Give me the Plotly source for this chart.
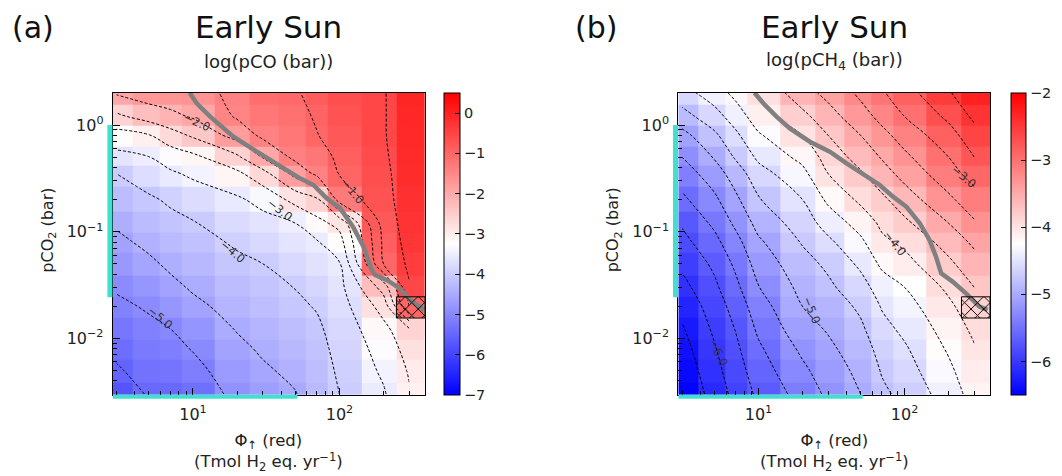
import math
import plotly.graph_objects as go

# ---------------- data ----------------
PHI = [3, 5, 7, 10, 20, 30, 50, 70, 100, 200, 300]                 # Tmol H2 eq / yr (cell centres)
PCO2 = [0.003, 0.005, 0.008, 0.012, 0.02, 0.03, 0.05, 0.08, 0.12, 0.2, 0.35, 0.5, 0.8, 1.2, 2.0]  # bar
PHI_LIM = [2.83, 384]
PCO2_LIM = [0.00294, 2.01]

# log10(pCO) ; one list per PHI column, listed from pCO2 = 2 (top) down to 0.003 (bottom)
LOG_PCO_COLS = [
    [-1.95, -2.6, -3.2, -3.65, -4.0, -4.23, -4.44, -4.6, -4.77, -4.95, -5.09, -5.26, -5.4, -5.55, -5.75],
    [-1.74, -2.3, -3.03, -3.51, -3.75, -4.07, -4.25, -4.4, -4.58, -4.79, -4.95, -5.1, -5.21, -5.33, -5.46],
    [-1.7, -2.13, -2.71, -3.29, -3.57, -3.93, -4.13, -4.26, -4.42, -4.61, -4.79, -5.01, -5.15, -5.3, -5.45],
    [-1.65, -1.95, -2.43, -3.12, -3.42, -3.77, -4.03, -4.16, -4.3, -4.45, -4.6, -4.81, -4.97, -5.15, -5.35],
    [-1.4, -1.45, -1.8, -2.59, -3.11, -3.57, -3.78, -3.94, -4.09, -4.23, -4.34, -4.48, -4.6, -4.72, -4.85],
    [-1.1, -1.25, -1.4, -1.97, -2.68, -3.36, -3.66, -3.81, -4.0, -4.12, -4.22, -4.34, -4.44, -4.56, -4.68],
    [-1.05, -1.15, -1.25, -1.38, -1.84, -2.84, -3.5, -3.64, -3.81, -3.99, -4.08, -4.2, -4.3, -4.4, -4.52],
    [-0.85, -0.95, -1.02, -1.23, -1.4, -2.59, -3.16, -3.54, -3.68, -3.85, -3.97, -4.08, -4.14, -4.2, -4.27],
    [-0.65, -0.72, -0.8, -0.9, -0.98, -1.3, -2.85, -3.2, -3.54, -3.65, -3.73, -3.82, -3.88, -3.94, -4.0],
    [-0.55, -0.55, -0.55, -0.6, -0.65, -0.7, -0.8, -0.9, -1.0, -2.3, -2.8, -3.15, -3.3, -3.42, -3.55],
    [-0.05, -0.08, -0.1, -0.12, -0.15, -0.2, -0.25, -0.3, -0.4, -0.55, -1.0, -2.6, -2.8, -2.95, -3.05],
]

# log10(pCH4) ; same layout
LOG_PCH4_COLS = [
    [-4.6, -4.85, -5.08, -5.25, -5.38, -5.55, -5.72, -5.83, -5.95, -6.08, -6.18, -6.28, -6.35, -6.42, -6.48],
    [-4.37, -4.6, -4.8, -4.98, -5.12, -5.3, -5.45, -5.57, -5.7, -5.8, -5.88, -5.96, -6.02, -6.08, -6.15],
    [-4.18, -4.38, -4.55, -4.72, -4.88, -5.05, -5.2, -5.33, -5.45, -5.56, -5.65, -5.74, -5.8, -5.86, -5.92],
    [-3.98, -4.12, -4.28, -4.45, -4.6, -4.77, -4.92, -5.04, -5.15, -5.26, -5.36, -5.46, -5.54, -5.62, -5.7],
    [-3.6, -3.82, -4.0, -4.18, -4.32, -4.5, -4.63, -4.73, -4.84, -4.93, -5.0, -5.1, -5.2, -5.3, -5.4],
    [-3.43, -3.6, -3.75, -3.9, -4.0, -4.2, -4.4, -4.55, -4.7, -4.8, -4.9, -4.98, -5.05, -5.12, -5.2],
    [-3.2, -3.35, -3.5, -3.65, -3.78, -3.95, -4.15, -4.3, -4.45, -4.6, -4.7, -4.8, -4.87, -4.94, -5.0],
    [-3.03, -3.18, -3.32, -3.48, -3.6, -3.8, -3.95, -4.05, -4.2, -4.38, -4.48, -4.58, -4.66, -4.73, -4.8],
    [-2.85, -3.0, -3.15, -3.3, -3.42, -3.62, -3.8, -3.95, -4.08, -4.25, -4.35, -4.45, -4.53, -4.6, -4.68],
    [-2.53, -2.7, -2.85, -3.0, -3.1, -3.3, -3.5, -3.65, -3.8, -3.95, -4.05, -4.15, -4.22, -4.3, -4.38],
    [-2.28, -2.45, -2.6, -2.75, -2.9, -3.1, -3.28, -3.45, -3.6, -3.75, -3.85, -3.95, -4.02, -4.08, -4.15],
]

# thick grey boundary curves
BOUND_A_PHI = [9.49, 10.6, 13.1, 18.9, 27.3, 39.4, 53.8, 66.4, 81.8, 101, 124, 146, 166, 175, 210, 259, 303, 378]
BOUND_A_PCO2 = [2.01, 1.60, 1.20, 0.777, 0.562, 0.407, 0.316, 0.274, 0.206, 0.166, 0.111, 0.0724, 0.0438, 0.0393, 0.0353, 0.0294, 0.0229, 0.0185]
BOUND_B_PHI = [9.39, 10.8, 13.3, 16.4, 22.5, 30.8, 40.1, 54.8, 67.6, 83.3, 103, 127, 148, 164, 178, 213, 263, 325, 370]
BOUND_B_PCO2 = [2.01, 1.60, 1.20, 0.931, 0.698, 0.562, 0.437, 0.328, 0.274, 0.213, 0.171, 0.120, 0.0836, 0.0583, 0.0407, 0.0340, 0.0264, 0.0198, 0.0185]

# hatched (flagged) cell
HATCH_PHI = 300
HATCH_PCO2 = 0.02

# cyan ranges on the axes
CYAN_PCO2 = [0.0243, 1.0]
CYAN_PHI = [2.83, 51.7]

# contour labels (phi, pco2, text, angle)
LABELS_A = [(10.6, 1.07, "−2.0", 25), (39.4, 0.16, "−3.0", 38), (18.9, 0.065, "−4.0", 40),
            (6.0, 0.0154, "−5.0", 40), (124.5, 0.237, "−1.0", 50)]
LABELS_B = [(256, 0.328, "−3.0", 40), (85.5, 0.0778, "−4.0", 52), (23.1, 0.01845, "−5.0", 68),
            (5.33, 0.00724, "−6.0", 65)]

CBAR_A_TICKS = [-7, -6, -5, -4, -3, -2, -1, 0]
CBAR_B_TICKS = [-6, -5, -4, -3, -2]

# ---------------- helpers ----------------
def rows_ascending(cols):
    rows_top_down = [list(r) for r in zip(*cols)]
    return rows_top_down[::-1]

def edges(vals, lim):
    e = [lim[0]]
    for a, b in zip(vals[:-1], vals[1:]):
        e.append(math.sqrt(a * b))
    e.append(lim[1])
    return e

def fmt(v):
    return ("−" + str(abs(v))) if v < 0 else str(v)

# the page body keeps the browser's default 8 px margin, so the figure is
# made 8 px smaller and every page position is shifted by that offset
OFF = 8
PAGE_W, PAGE_H = 1062, 476
W, H = PAGE_W - OFF, PAGE_H - OFF

def px(x):
    return (x - OFF) / W

def py(y):
    return 1 - (y - OFF) / H

TOP, BOT = 92.7, 395.0
PANELS = [(112.7, 425.0), (678.3, 990.0)]
BWR = [[0, "rgb(0,0,255)"], [0.5, "rgb(255,255,255)"], [1, "rgb(255,0,0)"]]
CYAN = "#40E0D0"
TXT = "#222222"
FONT = "DejaVu Sans"

xe = edges(PHI, PHI_LIM)
ye = edges(PCO2, PCO2_LIM)
ydom = [py(BOT), py(TOP)]

fig = go.Figure()

panel_defs = [
    dict(z=rows_ascending(LOG_PCO_COLS), zmin=-7, zmax=0.5, ticks=CBAR_A_TICKS, cstart=-5.5, cend=-0.5, csize=0.5,
         bx=BOUND_A_PHI, by=BOUND_A_PCO2, labels=LABELS_A, cbx=444, cbw=16,
         letter="(a)", letx=10, sub="log(pCO (bar))"),
    dict(z=rows_ascending(LOG_PCH4_COLS), zmin=-6.5, zmax=-2.0, ticks=CBAR_B_TICKS, cstart=-6.25, cend=-2.25, csize=0.25,
         bx=BOUND_B_PHI, by=BOUND_B_PCO2, labels=LABELS_B, cbx=1010.7, cbw=15,
         letter="(b)", letx=573, sub="log(pCH<sub>4</sub> (bar))"),
]

annotations = []
shapes = []
hi = PHI.index(HATCH_PHI)
hj = PCO2.index(HATCH_PCO2)

for k, p in enumerate(panel_defs):
    xa = "x" if k == 0 else "x2"
    ya = "y" if k == 0 else "y2"
    x0, x1 = PANELS[k]
    fig.add_trace(go.Heatmap(
        x=xe, y=ye, z=p["z"], colorscale=BWR, zmin=p["zmin"], zmax=p["zmax"],
        xaxis=xa, yaxis=ya, hoverinfo="skip",
        colorbar=dict(x=px(p["cbx"]), xanchor="left", y=ydom[0], yanchor="bottom",
                      len=ydom[1] - ydom[0], lenmode="fraction",
                      thickness=p["cbw"], thicknessmode="pixels", xpad=0, ypad=0,
                      outlinewidth=1, outlinecolor="black",
                      tickmode="array", tickvals=p["ticks"], ticktext=[fmt(t) for t in p["ticks"]],
                      ticks="inside", ticklen=5, tickwidth=1, tickcolor="black",
                      tickfont=dict(family=FONT, size=14.5, color=TXT)),
    ))
    fig.add_trace(go.Contour(
        x=PHI, y=PCO2, z=p["z"], xaxis=xa, yaxis=ya, showscale=False, hoverinfo="skip",
        contours=dict(coloring="none", start=p["cstart"], end=p["cend"], size=p["csize"], showlabels=False),
        line=dict(color="black", dash="3px,2px", width=1.0),
    ))
    fig.add_trace(go.Scatter(
        x=p["bx"], y=p["by"], mode="lines", xaxis=xa, yaxis=ya, hoverinfo="skip",
        line=dict(color="rgb(128,128,128)", width=4.5), showlegend=False,
    ))
    hx0, hx1 = xe[hi], xe[hi + 1]
    hy0, hy1 = ye[hj], ye[hj + 1]
    fig.add_trace(go.Scatter(
        x=[hx0, hx1, hx1, hx0, hx0], y=[hy0, hy0, hy1, hy1, hy0], mode="lines",
        fill="toself", fillcolor="rgba(0,0,0,0)",
        fillpattern=dict(shape="x", fgcolor="black", bgcolor="rgba(0,0,0,0)", size=9, solidity=0.2,
                         fgopacity=1),
        line=dict(color="black", width=1), xaxis=xa, yaxis=ya, hoverinfo="skip", showlegend=False,
    ))
    # cyan ranges
    shapes.append(dict(type="line", xref=xa + " domain", yref=ya, x0=-0.009, x1=-0.009,
                       y0=CYAN_PCO2[0], y1=CYAN_PCO2[1], line=dict(color=CYAN, width=5), layer="above"))
    shapes.append(dict(type="line", xref=xa, yref=ya + " domain", y0=-0.006, y1=-0.006,
                       x0=CYAN_PHI[0], x1=CYAN_PHI[1], line=dict(color=CYAN, width=4), layer="above"))
    # contour labels
    for (lx, ly, lt, ang) in p["labels"]:
        annotations.append(dict(xref=xa, yref=ya, x=math.log10(lx), y=math.log10(ly), text=lt,
                                showarrow=False, textangle=ang,
                                font=dict(family=FONT, size=11.5, color="#333")))
    cx = px((x0 + x1) / 2)
    annotations.append(dict(xref="paper", yref="paper", x=px(p["letx"]), y=py(27.5), xanchor="left",
                            yanchor="middle", text=p["letter"], showarrow=False,
                            font=dict(family=FONT, size=30, color="#111")))
    annotations.append(dict(xref="paper", yref="paper", x=cx, y=py(27.5), xanchor="center",
                            yanchor="middle", text="Early Sun", showarrow=False,
                            font=dict(family=FONT, size=31, color="#111")))
    annotations.append(dict(xref="paper", yref="paper", x=cx, y=py(61), xanchor="center",
                            yanchor="middle", text=p["sub"], showarrow=False,
                            font=dict(family=FONT, size=18, color=TXT)))
    annotations.append(dict(xref="paper", yref="paper", x=cx, y=py(452), xanchor="center",
                            yanchor="middle",
                            text="Φ<sub>↑</sub> (red)<br>(Tmol H<sub>2</sub> eq. yr<sup>−1</sup>)",
                            showarrow=False, font=dict(family=FONT, size=16.5, color=TXT)))
    annotations.append(dict(xref="paper", yref="paper", x=px(x0 - 65), y=py(230), xanchor="center",
                            yanchor="middle", text="pCO<sub>2</sub> (bar)", textangle=-90,
                            showarrow=False, font=dict(family=FONT, size=16, color=TXT)))

x_minor = [3, 4, 5, 6, 7, 8, 9, 20, 30, 40, 50, 60, 70, 80, 90, 200, 300]
y_minor = [0.003, 0.004, 0.005, 0.006, 0.007, 0.008, 0.009, 0.02, 0.03, 0.04, 0.05, 0.06, 0.07, 0.08, 0.09,
           0.2, 0.3, 0.4, 0.5, 0.6, 0.7, 0.8, 0.9, 2]

def xaxis_def(k):
    x0, x1 = PANELS[k]
    return dict(type="log", domain=[px(x0), px(x1)], anchor="y" if k == 0 else "y2",
                range=[math.log10(PHI_LIM[0]), math.log10(PHI_LIM[1])],
                tickmode="array", tickvals=[10, 100], ticktext=["10<sup>1</sup>", "10<sup>2</sup>"],
                ticks="inside", ticklen=7, tickwidth=1, tickcolor="black",
                minor=dict(tickmode="array", tickvals=x_minor, ticks="inside", ticklen=4,
                           tickwidth=1, tickcolor="black", showgrid=False),
                showline=True, linecolor="black", linewidth=1, mirror=True,
                showgrid=False, zeroline=False, ticklabelstandoff=5,
                tickfont=dict(family=FONT, size=16, color=TXT))

def yaxis_def(k):
    return dict(type="log", domain=ydom, anchor="x" if k == 0 else "x2",
                range=[math.log10(PCO2_LIM[0]), math.log10(PCO2_LIM[1])],
                tickmode="array", tickvals=[0.01, 0.1, 1],
                ticktext=["10<sup>−2</sup>", "10<sup>−1</sup>", "10<sup>0</sup>"],
                ticks="inside", ticklen=7, tickwidth=1, tickcolor="black",
                minor=dict(tickmode="array", tickvals=y_minor, ticks="inside", ticklen=4,
                           tickwidth=1, tickcolor="black", showgrid=False),
                showline=True, linecolor="black", linewidth=1, mirror=True,
                showgrid=False, zeroline=False, ticklabelstandoff=5,
                tickfont=dict(family=FONT, size=16, color=TXT))

fig.update_layout(
    width=W, height=H, margin=dict(l=0, r=0, t=0, b=0, autoexpand=False),
    paper_bgcolor="white", plot_bgcolor="white", showlegend=False,
    xaxis=xaxis_def(0), xaxis2=xaxis_def(1), yaxis=yaxis_def(0), yaxis2=yaxis_def(1),
    annotations=annotations, shapes=shapes,
)

fig.write_html("out.html")
